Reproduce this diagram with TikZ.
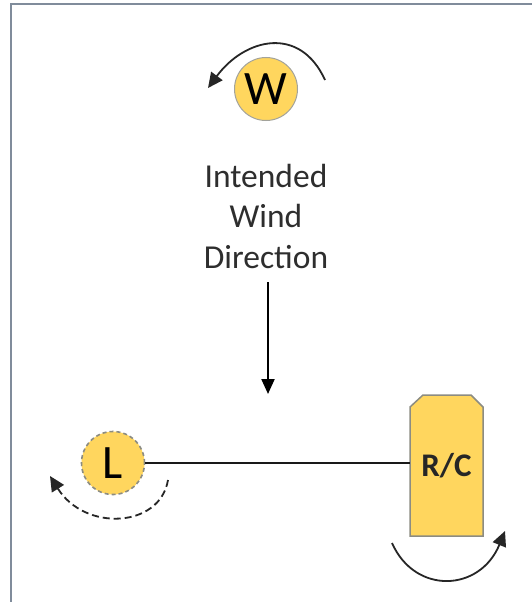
\documentclass[tikz,border=0pt]{standalone}
\usepackage{fontspec}
\setmainfont{Carlito}
\usetikzlibrary{arrows.meta}
\definecolor{gold}{RGB}{255,214,94}
\definecolor{framec}{RGB}{128,140,155}
\definecolor{edgec}{RGB}{140,140,130}
\tikzset{
  token/.style={circle, fill=gold, minimum size=63pt, inner sep=0pt, font=\fontsize{48}{48}\selectfont},
  lbl/.style={font=\fontsize{33.5}{33.5}\selectfont, text=black!82, anchor=base},
  curvearrow/.style={line width=1.8pt, black!85, -{Triangle[length=15pt,width=14pt]}},
  conn/.style={line width=1.8pt, black!90}
}
\begin{document}
\begin{tikzpicture}[x=1pt,y=-1pt]
\useasboundingbox (0,0) rectangle (531,602);
\fill[white] (0,0) rectangle (531,602);
% frame
\draw[framec, line width=2pt] (11,610) -- (11,4) -- (540,4);

% W token
\node[token, draw=edgec!80, line width=1pt] (W) at (266,89) {W};
\draw[curvearrow] (325,80) .. controls (300,25) and (245,38) .. (208,88);

% text
\node[lbl] (t1) at (266,187) {Intended};
\node[lbl] (t2) at (266,227) {Wind};
\node[lbl] (t3) at (266,268) {Direction};

% wind arrow
\coordinate (a1) at (268,282);
\coordinate (a2) at (268,394);
\draw[line width=2.2pt, -{Triangle[length=15pt,width=13pt]}] (a1) -- (a2);

% L token
\node[token, draw=edgec, dash pattern=on 4pt off 3pt, line width=1.6pt] (L) at (113,463) {L};
\draw[curvearrow, dash pattern=on 7pt off 4pt] (168,480) .. controls (160,528) and (85,532) .. (50,476);

% R/C
\fill[gold, draw=edgec, line width=1.5pt] (410,536) -- (410,407) -- (423,395) -- (471,395) -- (483,407) -- (483,536) -- cycle;
\node[minimum width=73pt, minimum height=141pt, inner sep=0pt, font=\fontsize{33}{33}\selectfont\bfseries, text=black!85] (RC) at (446.5,465.5) {R/C};
\draw[conn] (L.east) -- (L.east -| RC.west);
\draw[curvearrow] (392,543) .. controls (415,595) and (480,592) .. (505,531);
\end{tikzpicture}
\end{document}
